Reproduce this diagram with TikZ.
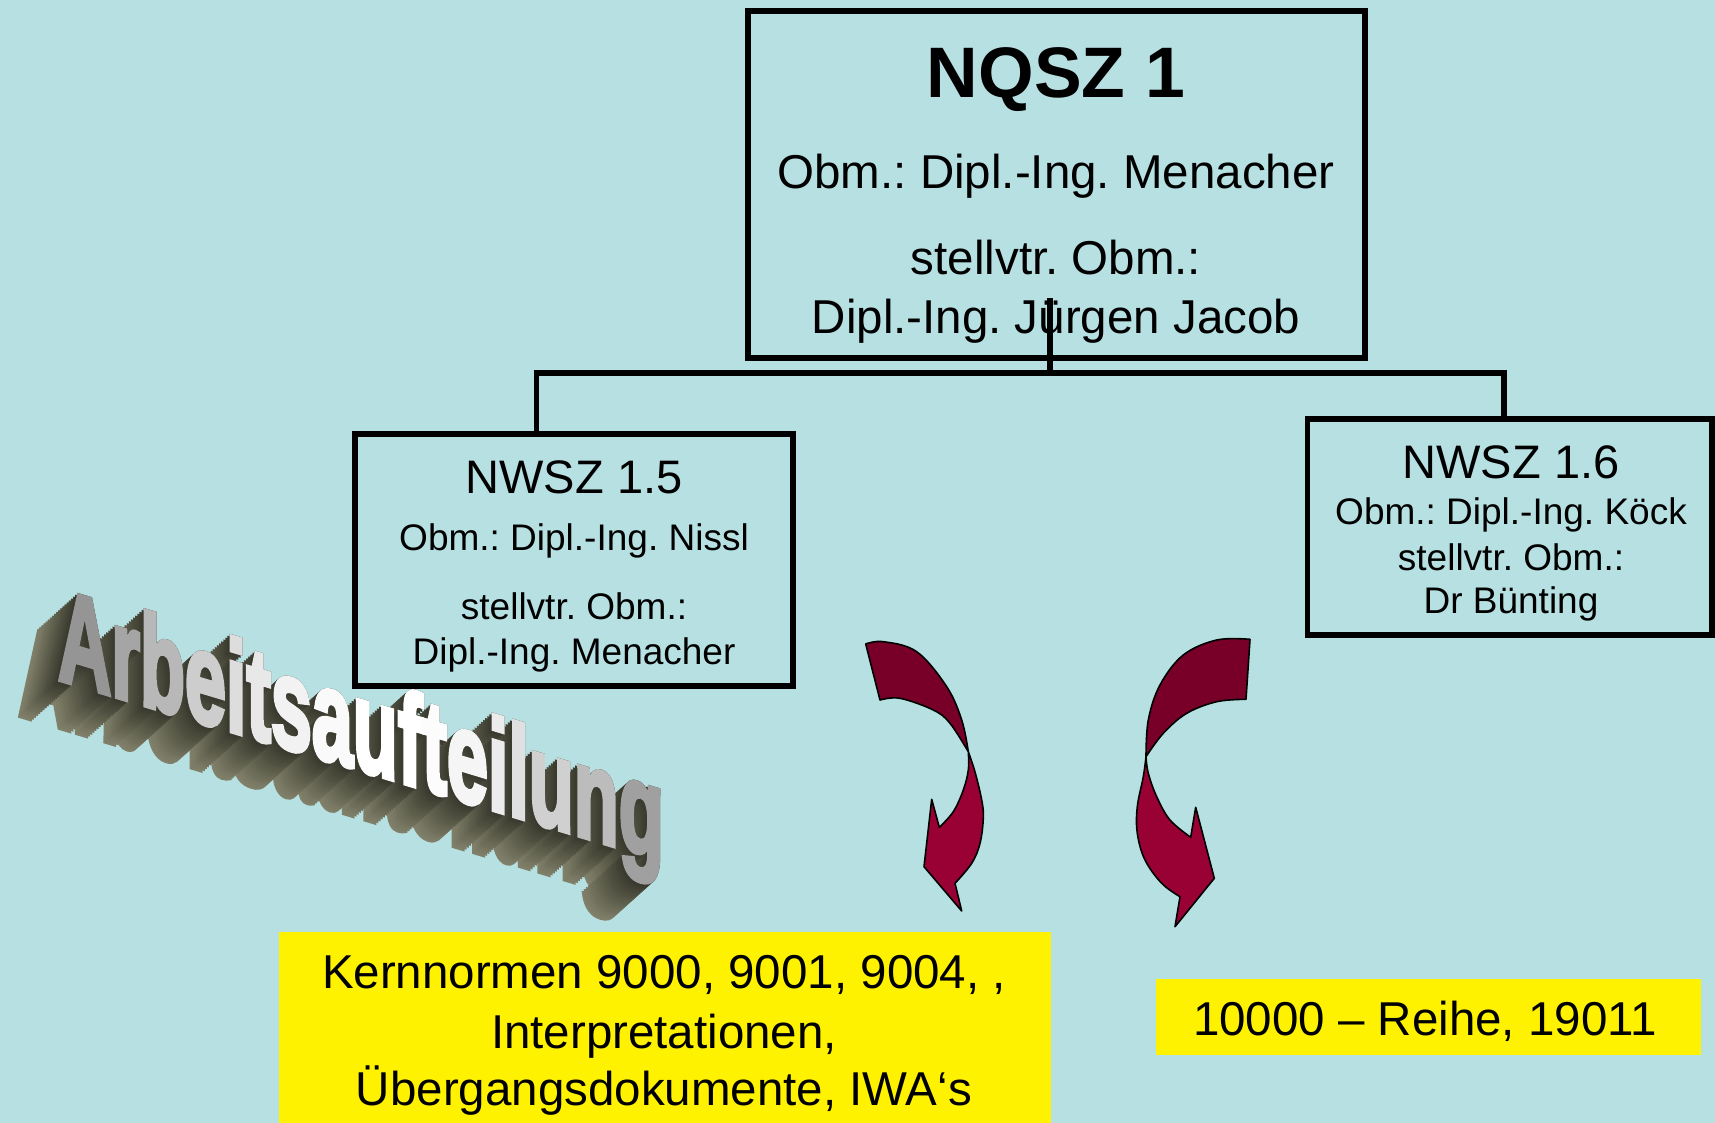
\documentclass[tikz,border=0pt]{standalone}
\usepackage{fontspec}
\setmainfont{Liberation Sans}
\newfontfamily\wafont[BoldFeatures={FakeBold=4}]{Liberation Sans}
\frenchspacing
\definecolor{bgcol}{HTML}{B7E0E2}
\definecolor{arrdarkcol}{HTML}{780028}
\definecolor{arrlightcol}{HTML}{990033}
\definecolor{olivelight}{HTML}{80806A}
\definecolor{olivedark}{HTML}{36362B}
\newcommand\arbl[2]{{\color[HTML]{#1}#2}}
\tikzset{
  framebox/.style={draw=black, line width=5.8pt, inner sep=0pt, fill=none},
  bigtxt/.style={font=\fontsize{47.5}{57}\selectfont, anchor=base, inner sep=0pt},
  smalltxt/.style={font=\fontsize{37}{44}\selectfont, anchor=base, inner sep=0pt},
  conn/.style={line width=5.8pt},
  ybox/.style={fill=yellow, inner sep=0pt, draw=none},
  arrdark/.style={fill=arrdarkcol, draw=black, line width=1.6pt, line join=round},
  arrlight/.style={fill=arrlightcol, draw=black, line width=1.6pt, line join=round},
  wordart/.style={transform shape, anchor=base west, inner sep=0pt,
    font=\wafont\fontsize{116}{120}\selectfont\bfseries},
  waframe/.style={yslant=-0.30, xscale=0.635, yscale=1.12},
}
\begin{document}
\begin{tikzpicture}[x=1pt, y=-1pt]
\useasboundingbox (0,0) rectangle (1715,1123);
\fill[bgcol] (0,0) rectangle (1715,1123);

% 3D word art: extrusion then front face
\foreach \i in {0,...,19}{
  \pgfmathsetmacro\dx{-40*(1-\i/19)}
  \pgfmathsetmacro\dy{36*(1-\i/19)}
  \pgfmathtruncatemacro\pc{100*\i/19}
  \begin{scope}[shift={(58+\dx,679+\dy)}, waframe]
    \node[wordart, text=olivedark!\pc!olivelight] (arbd\i) at (0,0) {Arbeitsaufteilung};
  \end{scope}
}
\begin{scope}[shift={(58,679)}, waframe]
  \node[wordart] (arb) at (0,0) {\arbl{959595}{A}\arbl{A5A5A5}{r}\arbl{B8B8B8}{b}\arbl{CDCDCD}{e}\arbl{DDDDDD}{i}\arbl{E8E8E8}{t}\arbl{F2F2F2}{s}\arbl{FAFAFA}{a}\arbl{FFFFFF}{u}\arbl{FFFFFF}{f}\arbl{FCFCFC}{t}\arbl{F5F5F5}{e}\arbl{ECECEC}{i}\arbl{E0E0E0}{l}\arbl{D0D0D0}{u}\arbl{BCBCBC}{n}\arbl{A0A0A0}{g}};
\end{scope}

% boxes
\node[framebox, minimum width=617.4pt, minimum height=347pt] (nqsz) at (1056.3,184.5) {};
\node[framebox, minimum width=438pt, minimum height=252pt] (nwsz15) at (574,560) {};
\node[framebox, minimum width=404.5pt, minimum height=216pt] (nwsz16) at (1509.75,527) {};

% texts top box
\node[bigtxt, font=\fontsize{71.5}{80}\selectfont\bfseries] (t1) at (1056,97.3) {NQSZ 1};
\node[bigtxt] (t2) at (1056,188.3) {Obm.: Dipl.-Ing. Menacher};
\node[bigtxt] (t3) at (1056,275) {stellvtr. Obm.:};
\node[bigtxt] (t4) at (1056,333.3) {Dipl.-Ing. Jürgen Jacob};

% texts left box
\node[bigtxt, font=\fontsize{47}{56}\selectfont] (l1) at (574,493) {NWSZ 1.5};
\node[smalltxt] (l2) at (574,550) {Obm.: Dipl.-Ing. Nissl};
\node[smalltxt] (l3) at (574,619) {stellvtr. Obm.:};
\node[smalltxt] (l4) at (574,664.3) {Dipl.-Ing. Menacher};

% texts right box
\node[bigtxt, font=\fontsize{47}{56}\selectfont] (r1) at (1511,478.3) {NWSZ 1.6};
\node[smalltxt] (r2) at (1511,524) {Obm.: Dipl.-Ing. Köck};
\node[smalltxt] (r3) at (1511,570) {stellvtr. Obm.:};
\node[smalltxt] (r4) at (1511,613.3) {Dr Bünting};

% connectors
\coordinate (topj) at (1050,298);
\coordinate (bus) at (1050,373);
\coordinate (lj) at (536.5,434);
\coordinate (rj) at (1504,419);
\draw[conn] (topj) -- (bus);
\draw[conn] (lj) |- (bus) -| (rj);

% yellow boxes
\node[ybox, minimum width=771.7pt, minimum height=190.7pt] (y1) at (665.2,1027.7) {};
\node[ybox, minimum width=545pt, minimum height=76pt] (y2) at (1428.5,1017.3) {};
\node[bigtxt] (y1a) at (664,988.3) {Kernnormen 9000, 9001, 9004, ,};
\node[bigtxt] (y1b) at (664,1048.3) {Interpretationen,};
\node[bigtxt] (y1c) at (664,1105) {Übergangsdokumente, IWA‘s};
\node[bigtxt] (y2a) at (1425,1035.3) {10000 – Reihe, 19011};

% left curved arrow
\filldraw[arrdark] plot[smooth, tension=0.6] coordinates {(865.7,644) (883.3,641.7) (916.7,651.7) (946.7,686.7) (961.7,720) (968.3,751.7)}
  -- plot[smooth, tension=0.6] coordinates {(968.3,751.7) (950,723.3) (933.3,710) (900,698.3) (880,700)} -- cycle;
\filldraw[arrlight] plot[smooth, tension=0.6] coordinates {(968.3,751.7) (975,772) (981.7,800) (983.3,818) (980,843.3) (971.7,863.3) (955,883.3)}
  -- (961.7,911) -- (924,866.7) -- (931.7,799.3) -- (939.3,827.3)
  -- plot[smooth, tension=0.6] coordinates {(939.3,827.3) (953.3,811.7) (963.3,790) (968.3,770) (968.3,751.7)} -- cycle;

% right curved arrow
\filldraw[arrdark] plot[smooth, tension=0.6] coordinates {(1250,639.3) (1216.7,640) (1183.3,655) (1160,685) (1148.3,720) (1146,756.7)}
  -- plot[smooth, tension=0.6] coordinates {(1146,756.7) (1163.3,733.3) (1186.7,713.3) (1216.7,701.7) (1246,699.3)} -- cycle;
\filldraw[arrlight] plot[smooth, tension=0.6] coordinates {(1146,756.7) (1143.3,776.7) (1137.3,806.7) (1137.3,833.3) (1145,860) (1161.7,883.3) (1180,896.7)}
  -- (1175,926.7) -- (1214.3,878.3) -- (1195.7,807.3) -- (1190.7,837.3)
  -- plot[smooth, tension=0.6] coordinates {(1190.7,837.3) (1170,820) (1156.7,796.7) (1148.3,773.3) (1146,756.7)} -- cycle;
\end{tikzpicture}
\end{document}
